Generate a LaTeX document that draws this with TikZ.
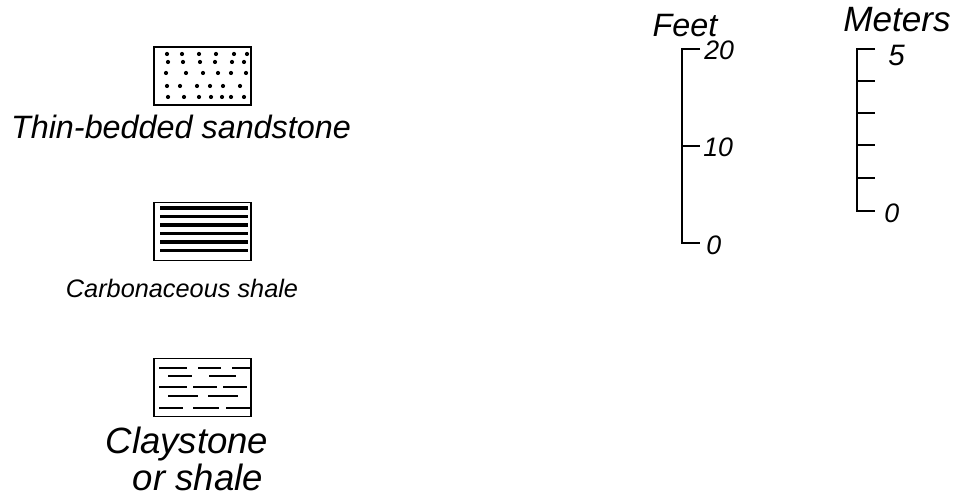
\documentclass[tikz,border=0pt]{standalone}
\usepackage{fontspec}
\setmainfont{Liberation Sans}
\begin{document}
\begin{tikzpicture}[x=0.025cm, y=-0.025cm,
    % Estilos de las cajas de leyenda y de las escalas
    legbox/.style={draw=black, line width=1.4pt, minimum width=2.43cm, minimum height=1.45cm, inner sep=0pt},
    leglabel/.style={font=\itshape\fontsize{#1}{#1}\selectfont, align=center, inner sep=0pt},
    scaleline/.style={line width=1.5pt},
    scalenum/.style={font=\itshape\fontsize{#1}{#1}\selectfont, anchor=west, inner sep=0pt},
    dash line/.style={line width=1.8pt},
    shale line/.style={line width=2.2pt}
]
\useasboundingbox (0,0) rectangle (966,503);

% ---------------------------------------------------------
% 1. CAJAS DE LEYENDA
% ---------------------------------------------------------
% Arenisca en capas finas (puntos)
\node[legbox] (sand) at (202.5, 76) {};
\foreach \x/\y in {167/54, 182/54, 199/54, 216/54, 234/54, 247/54,
                   168/62, 183/62, 200/62, 215/62, 232/62, 244/62,
                   166/73, 186/73, 203/73, 218/73, 231/73, 246/73,
                   167/86, 180/86, 197/86, 210/86, 223/86, 240/86,
                   168/97, 184/97, 199/97, 211/97, 222/97, 231/97, 244/97}
    \fill (\x, \y) circle (2.1);
\node[leglabel=23] (sandlabel) at (181, 127) {Thin-bedded sandstone};

% Lutita carbonosa (lineas continuas)
\node[legbox] (carb) at (202.5, 231.5) {};
\foreach \y in {208, 216.5, 225, 233.5, 242, 250.5}
    \draw[shale line] (160, \y) -- (248, \y);
\node[leglabel=18] (carblabel) at (182, 288) {Carbonaceous shale};

% Arcillita o lutita (lineas discontinuas)
\node[legbox] (clay) at (202.5, 387.5) {};
\foreach \a/\b/\y in {159/187/368, 198/221/368, 232/250/368,
                      168/192/376, 209/236/376,
                      159/187/387, 193/217/387, 223/247/387,
                      168/198/396, 208/238/396,
                      159/183/408, 193/219/408, 226/250/408}
    \draw[dash line] (\a, \y) -- (\b, \y);
\node[leglabel=26] (claylabel) at (187, 459) {Claystone\\\hspace*{0.6em}or shale};

% ---------------------------------------------------------
% 2. ESCALAS (Pies y Metros)
% ---------------------------------------------------------
% Escala en pies
\node[leglabel=23] (feet) at (685, 26) {Feet};
\coordinate (ftop) at (682, 49);
\coordinate (fbot) at (682, 243);
\draw[scaleline] (700, 49) -- (ftop) -- (fbot) -- (700, 243);
\draw[scaleline] (682, 146) -- (700, 146);
\node[scalenum=19] (f20) at (704, 50) {20};
\node[scalenum=19] (f10) at (703, 147) {10};
\node[scalenum=19] (f0) at (706, 245) {0};

% Escala en metros
\node[leglabel=25] (meters) at (897, 20) {Meters};
\coordinate (mtop) at (857, 49);
\coordinate (mbot) at (857, 211);
\draw[scaleline] (875, 49) -- (mtop) -- (mbot) -- (875, 211);
\foreach \y in {81, 113, 145, 178}
    \draw[scaleline] (857, \y) -- (875, \y);
\node[scalenum=21] (m5) at (888, 55) {5};
\node[scalenum=19] (m0) at (884, 213) {0};

\end{tikzpicture}
\end{document}
